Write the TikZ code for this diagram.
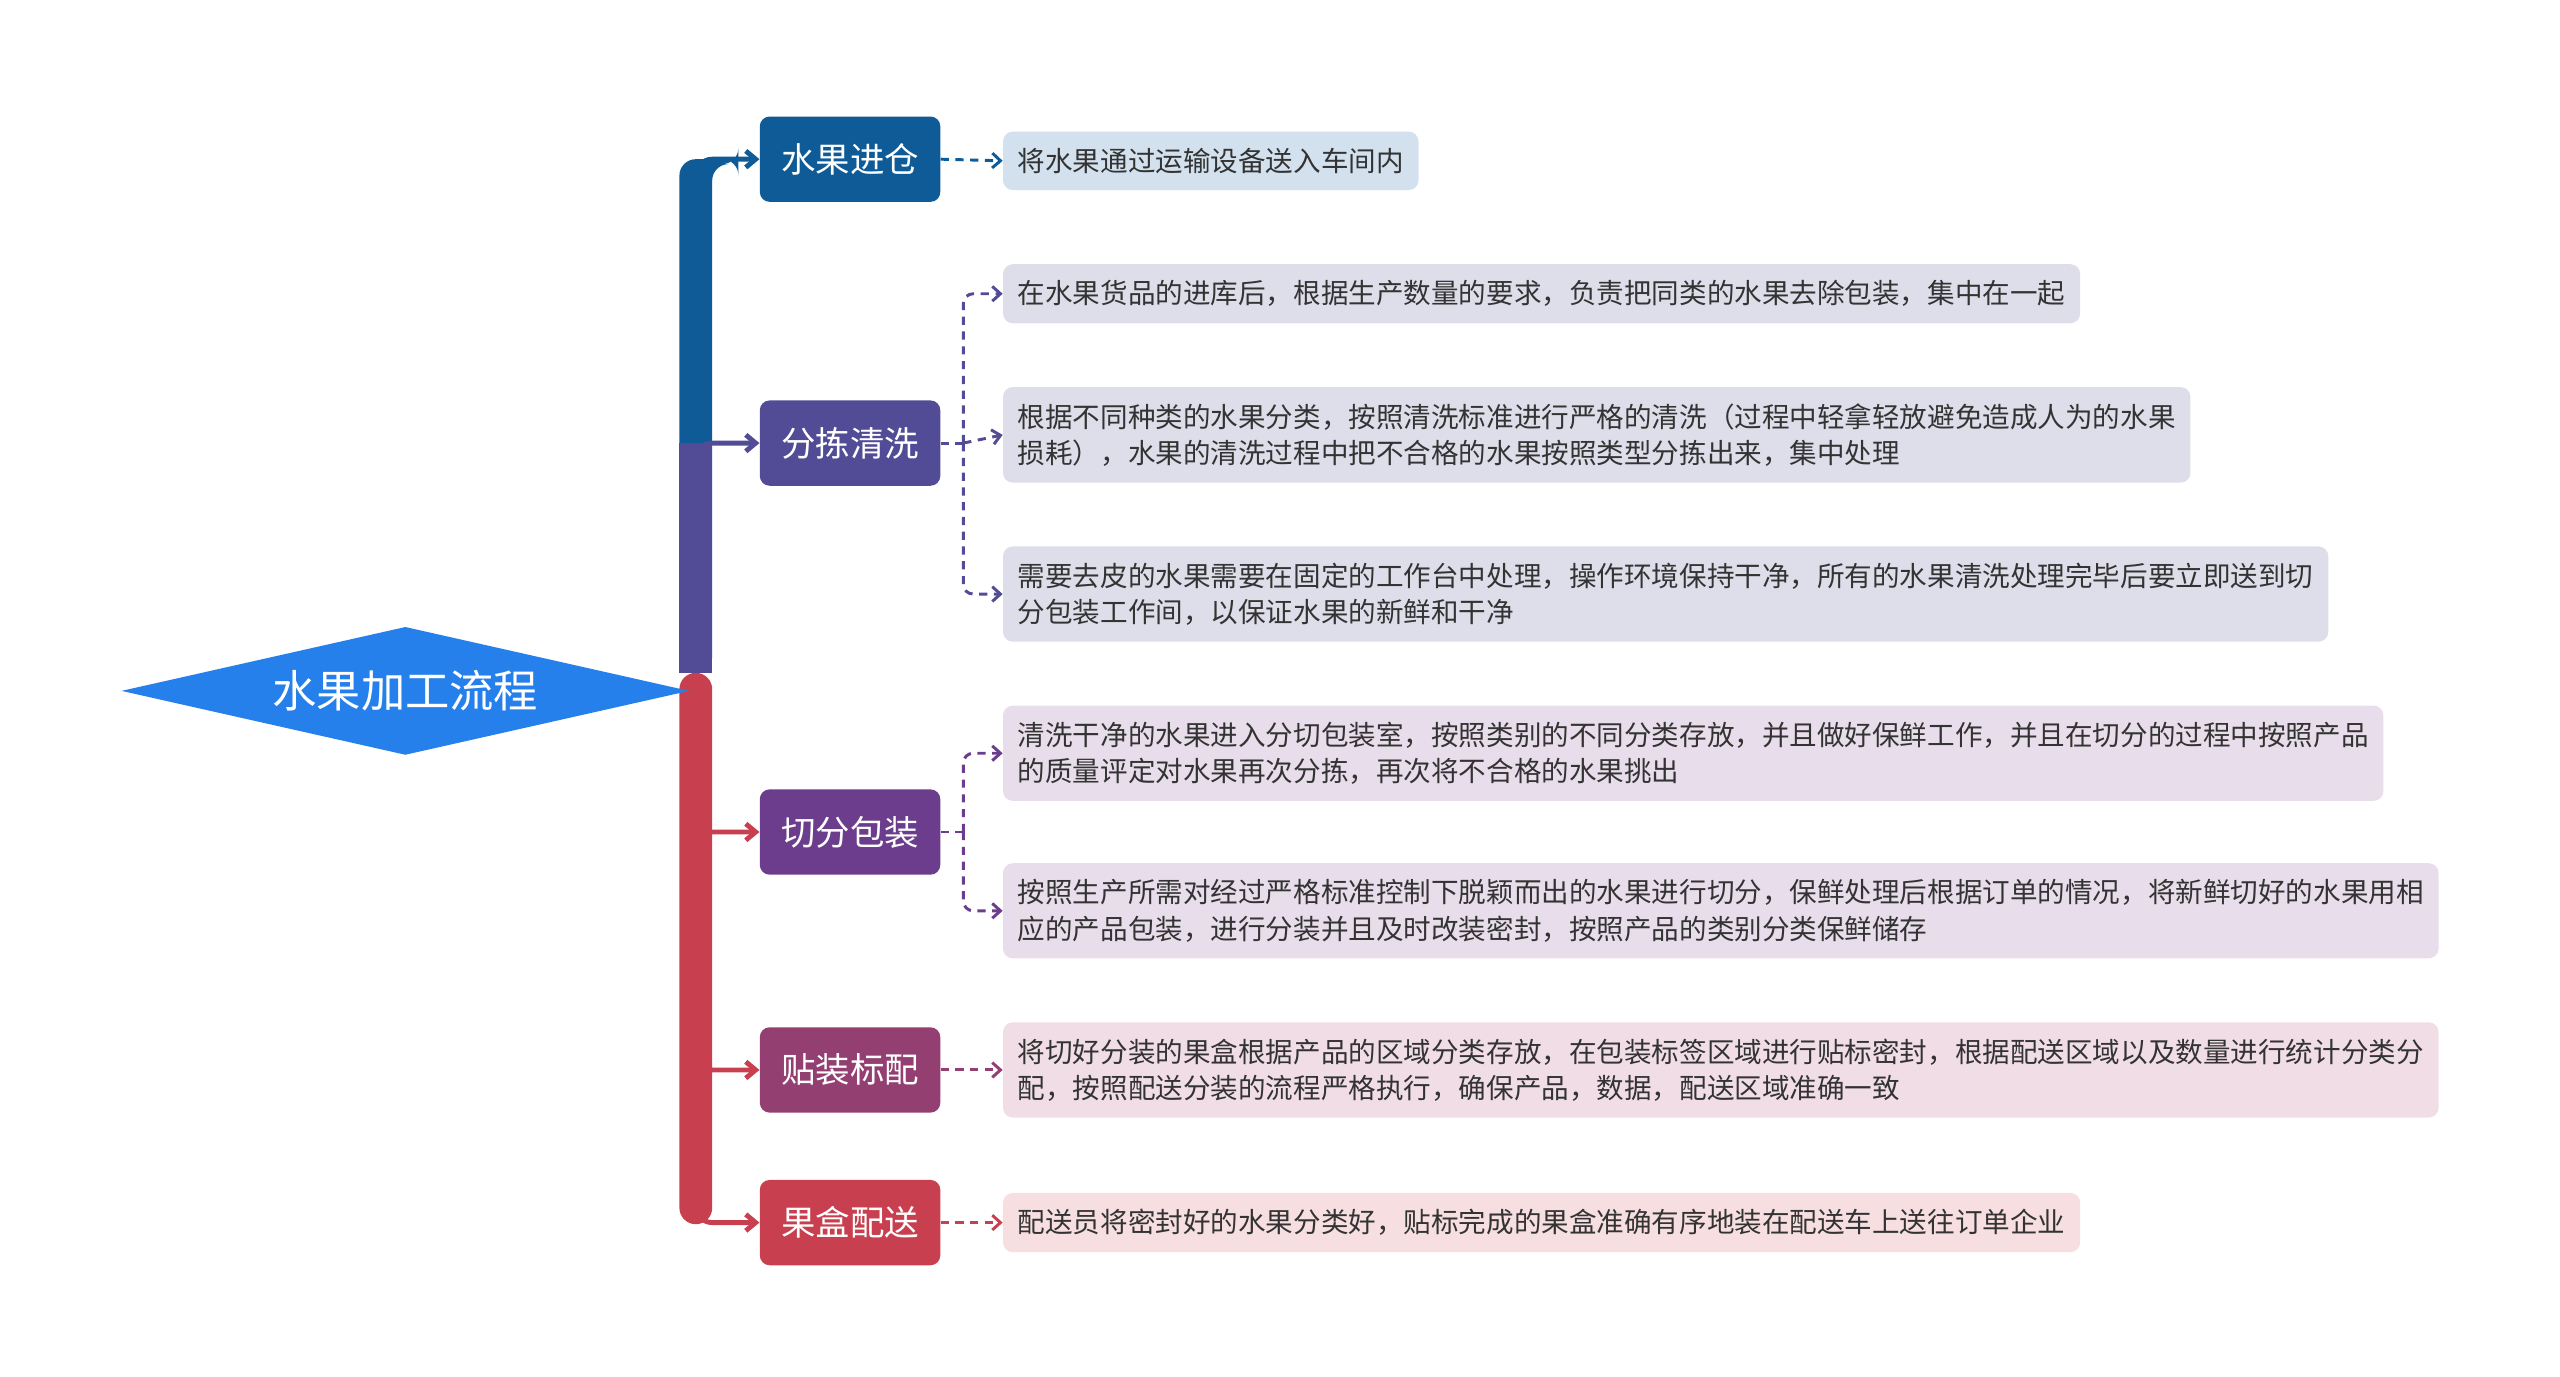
\documentclass[tikz,border=0pt]{standalone}
\usepackage{fontspec}
\setmainfont{Noto Sans CJK SC}
\usetikzlibrary{arrows.meta,shapes.geometric}
\definecolor{cB}{HTML}{0F5B97}
\definecolor{cP}{HTML}{524C96}
\definecolor{cV}{HTML}{6B3D8C}
\definecolor{cM}{HTML}{943F72}
\definecolor{cR}{HTML}{C8404F}
\definecolor{lB}{HTML}{D3E1EE}
\definecolor{lP}{HTML}{DEDDEA}
\definecolor{lV}{HTML}{E8DDEA}
\definecolor{lM}{HTML}{F1DDE6}
\definecolor{lR}{HTML}{F6DEE1}
\begin{document}
\begin{tikzpicture}[x=1pt,y=-1pt,
 mid/.style={rounded corners=6pt,minimum width=110pt,minimum height=52pt,text=white,font=\fontsize{21}{24}\selectfont,inner sep=0pt},
 leaf/.style={rounded corners=6pt,anchor=west,align=left,text=black!80,font=\fontsize{16.8}{22}\selectfont,inner xsep=9pt,inner ysep=10pt},
 br/.style={line width=3pt,-{Straight Barb[length=6pt,width=10pt]},rounded corners=10pt},
 dsh/.style={dash pattern=on 5pt off 4pt,line width=1.8pt},
 dl/.style={dsh,-{Straight Barb[length=5pt,width=9pt]},rounded corners=6pt}]
\useasboundingbox (0,0) rectangle (1560,839);
% trunk
\fill[cB,rounded corners=10pt] (414,410) -- (414,97) -- (450,97) -- (450,100) -- (434,100) -- (434,410) -- cycle;
\fill[cP] (414,270) rectangle (434,410);
\fill[cR,rounded corners=10pt] (414,410) rectangle (434,746);
\node[diamond,fill={rgb,255:red,38;green,128;blue,235},minimum width=346pt,minimum height=78pt,aspect=4.4,inner sep=0pt,text=white,font=\fontsize{27}{30}\selectfont] (root) at (247,421) {水果加工流程};
\node[mid,fill=cB] (n1) at (518,97) {水果进仓};
\node[mid,fill=cP] (n2) at (518,270) {分拣清洗};
\node[mid,fill=cV] (n3) at (518,507) {切分包装};
\node[mid,fill=cM] (n4) at (518,652) {贴装标配};
\node[mid,fill=cR] (n5) at (518,745) {果盒配送};
\draw[br,cB] (424,140) |- (n1.west);
\draw[br,cP] (424,300) |- (n2.west);
\draw[br,cR] (424,530) |- (n3.west);
\draw[br,cR] (424,620) |- (n4.west);
\draw[br,cR] (424,700) |- (n5.west);
% leaves
\node[leaf,fill=lB] (l1) at (611,98) {将水果通过运输设备送入车间内};
\node[leaf,fill=lP] (l2) at (611,179) {在水果货品的进库后，根据生产数量的要求，负责把同类的水果去除包装，集中在一起};
\node[leaf,fill=lP] (l3) at (611,265) {根据不同种类的水果分类，按照清洗标准进行严格的清洗（过程中轻拿轻放避免造成人为的水果\\损耗），水果的清洗过程中把不合格的水果按照类型分拣出来，集中处理};
\node[leaf,fill=lP] (l4) at (611,362) {需要去皮的水果需要在固定的工作台中处理，操作环境保持干净，所有的水果清洗处理完毕后要立即送到切\\分包装工作间，以保证水果的新鲜和干净};
\node[leaf,fill=lV] (l5) at (611,459) {清洗干净的水果进入分切包装室，按照类别的不同分类存放，并且做好保鲜工作，并且在切分的过程中按照产品\\的质量评定对水果再次分拣，再次将不合格的水果挑出};
\node[leaf,fill=lV] (l6) at (611,555) {按照生产所需对经过严格标准控制下脱颖而出的水果进行切分，保鲜处理后根据订单的情况，将新鲜切好的水果用相\\应的产品包装，进行分装并且及时改装密封，按照产品的类别分类保鲜储存};
\node[leaf,fill=lM] (l7) at (611,652) {将切好分装的果盒根据产品的区域分类存放，在包装标签区域进行贴标密封，根据配送区域以及数量进行统计分类分\\配，按照配送分装的流程严格执行，确保产品，数据，配送区域准确一致};
\node[leaf,fill=lR] (l8) at (611,745) {配送员将密封好的水果分类好，贴标完成的果盒准确有序地装在配送车上送往订单企业};
% dashed
\draw[dl,cB] (n1.east) -- (l1.west);
\coordinate (a) at (587,270);
\draw[dsh,cP] (n2.east) -- (a);
\draw[dl,cP] (a) |- (l2.west);
\draw[dl,cP] (a) -- (l3.west);
\draw[dl,cP] (a) |- (l4.west);
\coordinate (b) at (587,507);
\draw[dsh,cV] (n3.east) -- (b);
\draw[dl,cV] (b) |- (l5.west);
\draw[dl,cV] (b) |- (l6.west);
\draw[dl,cM] (n4.east) -- (l7.west);
\draw[dl,cR] (n5.east) -- (l8.west);
\end{tikzpicture}
\end{document}
